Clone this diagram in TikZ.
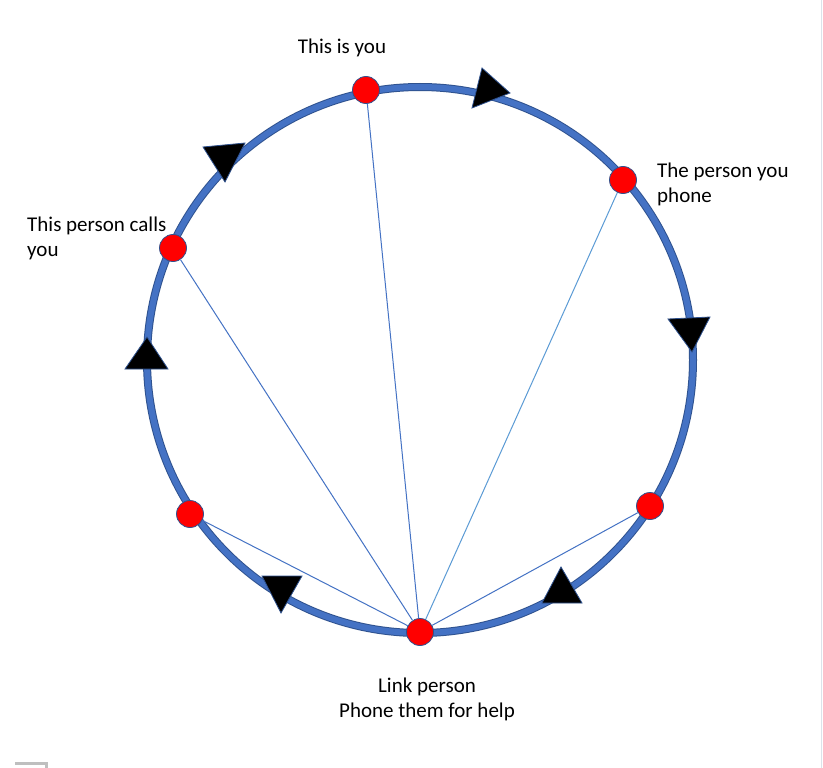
\documentclass[tikz,border=0pt]{standalone}
\usepackage{fontspec}
\setmainfont{Carlito}
\definecolor{ringblue}{HTML}{4472C4}
\definecolor{ringedge}{HTML}{2F528F}
\definecolor{linkblue}{HTML}{4472C4}
\definecolor{linklight}{HTML}{5B9BD5}
\definecolor{dotred}{HTML}{FF0000}
\definecolor{framegray}{HTML}{BFBFBF}
\definecolor{edgegray}{HTML}{DCE3EA}
\begin{document}
\begin{tikzpicture}[x=1pt,y=-1pt,
  dot/.style={circle, fill=dotred, draw=ringedge, line width=0.8pt, minimum size=27pt, inner sep=0pt},
  lbl/.style={font=\fontsize{21}{25}\selectfont, inner sep=0pt},
  tri/.style={fill=black, draw=ringedge, line width=0.8pt, line join=miter},
  link/.style={linkblue, line width=1pt}]
\useasboundingbox (0,0) rectangle (823,768);
\fill[white] (0,0) rectangle (823,768);
% faint page edges
\draw[edgegray, line width=1pt] (821,0) -- (821,768);
\draw[framegray, line width=3pt] (15,763) -- (46,763) -- (46,768);
% ring
\draw[ringedge, line width=8pt] (420,360) circle [radius=273pt];
\draw[ringblue, line width=6pt] (420,360) circle [radius=273pt];
% triangles
\filldraw[tri] (482,68) -- (510,93) -- (472,108) -- cycle;
\filldraw[tri] (203,147) -- (245,143) -- (225,182) -- cycle;
\filldraw[tri] (668,319) -- (710,317) -- (692,352) -- cycle;
\filldraw[tri] (147,337) -- (168,369) -- (125,369) -- cycle;
\filldraw[tri] (262,576) -- (302,576) -- (281,613) -- cycle;
\filldraw[tri] (561,567) -- (582,603) -- (542,603) -- cycle;
% dots
\node[dot] (you) at (366,90) {};
\node[dot] (phone) at (623,180) {};
\node[dot] (calls) at (173,248) {};
\node[dot] (rlow) at (650,506) {};
\node[dot] (llow) at (190,514) {};
\node[dot] (link) at (420,632) {};
% links
\draw[link] (link) -- (you);
\draw[linklight, line width=1pt] (link) -- (phone);
\draw[link] (link) -- (calls);
\draw[link] (link) -- (rlow);
\draw[link] (link) -- (llow);
% labels
\node[lbl, anchor=base] (t1) at (342,54) {This is you};
\node[lbl, anchor=base west] (t2) at (657,177) {The person you};
\node[lbl, anchor=base west] (t3) at (657,202) {phone};
\node[lbl, anchor=base west] (t4) at (27,231) {This person calls};
\node[lbl, anchor=base west] (t5) at (27,256) {you};
\node[lbl, anchor=base] (t6) at (427,692) {Link person};
\node[lbl, anchor=base] (t7) at (427,717) {Phone them for help};
\end{tikzpicture}
\end{document}
